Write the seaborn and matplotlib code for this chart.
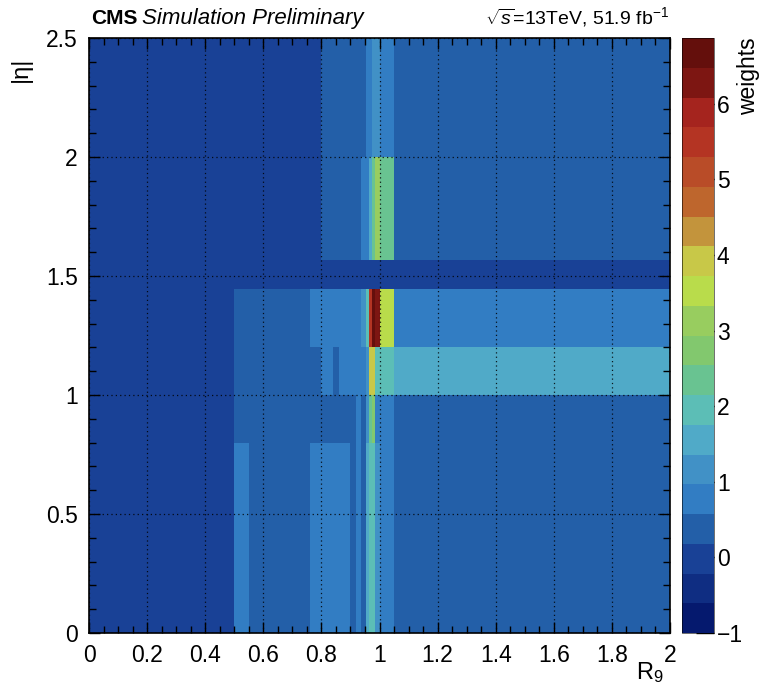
import numpy as np
import pandas as pd
import matplotlib
matplotlib.use("Agg")
import matplotlib.pyplot as plt
from matplotlib.colors import ListedColormap
from matplotlib.ticker import MultipleLocator
import seaborn as sns

# bin edges of the weight map
r9_edges = [0, 0.5, 0.55, 0.76, 0.8, 0.84, 0.86, 0.9, 0.92, 0.935, 0.955,
            0.965, 0.975, 0.985, 1.0, 1.05, 2.0]
eta_edges = [0, 0.8, 1.0, 1.2, 1.4442, 1.566, 2.0, 2.5]

# weights per |eta| row (one value per R9 bin)
w_eta_0p0 = [0.0, 0.8, 0.4, 0.8, 0.8, 0.8, 0.8, 0.4, 0.8, 0.4, 1.5, 2.0, 2.0, 1.2, 0.8, 0.4]
w_eta_0p8 = [0.0, 0.4, 0.4, 0.4, 0.4, 0.4, 0.4, 0.4, 0.8, 0.4, 1.2, 2.3, 2.7, 0.8, 0.8, 0.4]
w_eta_1p0 = [0.0, 0.4, 0.4, 0.4, 0.8, 0.4, 0.8, 0.8, 0.8, 0.8, 1.2, 3.9, 3.9, 2.0, 2.0, 1.5]
w_eta_1p2 = [0.0, 0.4, 0.4, 0.8, 0.8, 0.8, 0.8, 0.8, 0.8, 1.2, 2.0, 5.5, 6.7, 6.3, 3.5, 0.8]
w_eta_1p44 = [0.0] * 16
w_eta_1p57 = [0.0, 0.0, 0.0, 0.0, 0.4, 0.4, 0.4, 0.4, 0.4, 0.8, 0.8, 1.5, 2.3, 3.1, 2.3, 0.4]
w_eta_2p0 = [0.0, 0.0, 0.0, 0.0, 0.4, 0.4, 0.4, 0.4, 0.4, 0.4, 0.8, 0.8, 1.2, 1.2, 0.8, 0.4]
weight_rows = [w_eta_0p0, w_eta_0p8, w_eta_1p0, w_eta_1p2, w_eta_1p44, w_eta_1p57, w_eta_2p0]

z_min, z_max = -1, 6.87

# 20-colour palette like the ROOT one
pal = [(5, 25, 110), (15, 45, 130), (25, 65, 150), (35, 95, 168), (50, 125, 195),
       (65, 145, 198), (80, 170, 200), (92, 190, 182), (105, 195, 145), (130, 200, 110),
       (152, 205, 95), (185, 220, 75), (200, 200, 72), (195, 148, 60), (190, 102, 45),
       (185, 76, 40), (180, 52, 35), (165, 36, 30), (125, 22, 18), (100, 15, 12)]
cmap = ListedColormap([(r / 255, g / 255, b / 255) for r, g, b in pal])

# one entry per cell, histplot sums the weights back into the bins
xc = [(a + b) / 2 for a, b in zip(r9_edges[:-1], r9_edges[1:])]
yc = [(a + b) / 2 for a, b in zip(eta_edges[:-1], eta_edges[1:])]
df = pd.DataFrame([(x, y, w) for y, row in zip(yc, weight_rows) for x, w in zip(xc, row)],
                  columns=["r9", "eta", "w"])

sns.set_theme(style="ticks")
plt.rcParams["font.family"] = ["Liberation Sans", "DejaVu Sans"]
plt.rcParams["mathtext.fontset"] = "custom"
plt.rcParams["mathtext.rm"] = "Liberation Sans"
plt.rcParams["mathtext.it"] = "Liberation Sans:italic"
for k in ["text.color", "axes.labelcolor", "xtick.color", "ytick.color", "axes.edgecolor"]:
    plt.rcParams[k] = "black"

fig = plt.figure(figsize=(7.68, 6.87), dpi=100)
ax = fig.add_axes([89 / 768, 54 / 687, 581 / 768, 595 / 687])
cax = fig.add_axes([682 / 768, 54 / 687, 32 / 768, 595 / 687])

sns.histplot(data=df, x="r9", y="eta", weights="w", bins=[r9_edges, eta_edges],
             cmap=cmap, vmin=z_min, vmax=z_max, thresh=None, cbar=True,
             cbar_ax=cax, ax=ax, linewidth=0)

ax.set_xlim(0, 2)
ax.set_ylim(0, 2.5)
ax.xaxis.set_minor_locator(MultipleLocator(0.05))
ax.yaxis.set_minor_locator(MultipleLocator(0.1))
ax.set_xticks(np.arange(0, 2.01, 0.2))
ax.set_xticklabels(["0", "0.2", "0.4", "0.6", "0.8", "1", "1.2", "1.4", "1.6", "1.8", "2"])
ax.set_yticks([0, 0.5, 1, 1.5, 2, 2.5])
ax.set_yticklabels(["0", "0.5", "1", "1.5", "2", "2.5"])
ax.tick_params(which="both", direction="in", top=True, right=True, color="black",
               labelcolor="black", labelsize=16.5, width=1)
ax.tick_params(which="major", length=8, pad=8)
ax.tick_params(which="minor", length=5)
for s in ax.spines.values():
    s.set_linewidth(1.2)
    s.set_color("black")
ax.set_axisbelow(False)
ax.grid(True, which="major", color="black", linestyle=(0, (1, 2.5)), linewidth=0.9, alpha=0.85)
ax.set_xlabel("")
ax.set_ylabel("")

# axis titles placed like ROOT does
fig.text(664 / 768, 1 - 679 / 687, r"R$_9$", ha="right", va="baseline", fontsize=17)
fig.text(21 / 768, 1 - 57 / 687, "|\u03b7|", rotation=90, ha="center", va="top", fontsize=17)

cax.set_ylim(z_min, z_max)
cax.set_yticks(range(-1, 7))
cax.set_yticklabels([str(v).replace("-", "\u2212") for v in range(-1, 7)])
cax.tick_params(direction="in", length=13, width=1, color="black", labelcolor="black",
                labelsize=16.5, right=True, left=False, labelright=True, labelleft=False, pad=2)
for s in cax.spines.values():
    s.set_linewidth(0.4)
fig.text(0.975, 0.945, "weights", rotation=90, ha="center", va="top", fontsize=16.5)

# header
fig.text(91 / 768, 1 - 24 / 687, "CMS", fontsize=15, fontweight="bold", va="baseline")
fig.text(142 / 768, 1 - 24 / 687, "Simulation Preliminary", fontsize=16,
         style="italic", va="baseline")
fig.text(669 / 768, 1 - 24 / 687, r"$\sqrt{s}$=13TeV, 51.9 fb$^{-1}$", fontsize=14,
         ha="right", va="baseline")

fig.savefig("out.png", dpi=100)
